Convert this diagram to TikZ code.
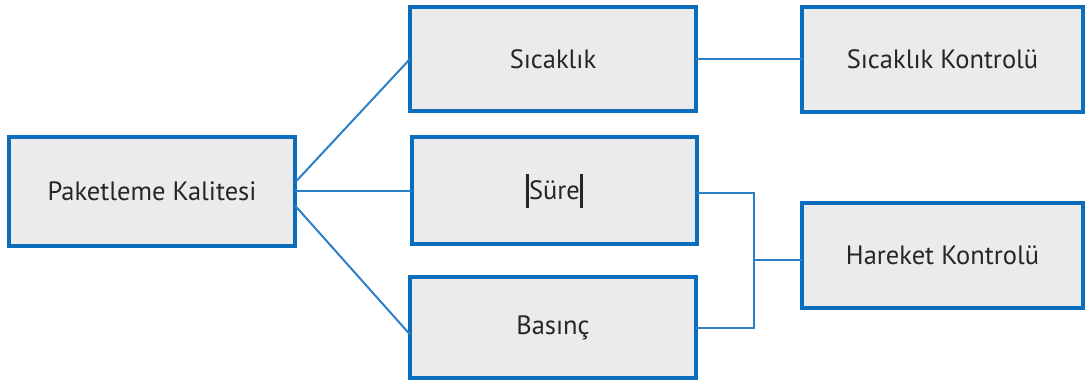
\documentclass[tikz,border=0pt]{standalone}
\usepackage{fontspec}
\setmainfont{PT Sans}
\definecolor{boxblue}{HTML}{0B6DBE}
\definecolor{linkblue}{HTML}{2B80C8}
\definecolor{boxfill}{HTML}{EBEBEB}
\definecolor{txt}{HTML}{262626}
\tikzset{
  block/.style={draw=boxblue, line width=3.2pt, fill=boxfill, inner sep=0pt,
    outer sep=0pt, text=txt, font=\fontsize{26.5}{31}\selectfont},
  link/.style={draw=linkblue, line width=2pt},
}
\newcommand{\cursorbar}{\textcolor{txt}{\rule[-8pt]{2.1pt}{34pt}}}
\begin{document}
\begin{tikzpicture}[x=1pt,y=-1pt]
  \useasboundingbox (0,0) rectangle (1086,380);
  % boxes
  \node[block, minimum width=286pt, minimum height=109pt] (pk) at (152,191.5) {Paketleme Kalitesi};
  \node[block, minimum width=286pt, minimum height=104pt] (sic) at (553,59) {Sıcaklık};
  \node[block, minimum width=285pt, minimum height=107pt] (sure) at (554.5,190.5) {\cursorbar\kern0.5pt Süre\kern0.5pt\cursorbar};
  \node[block, minimum width=286pt, minimum height=101pt] (bas) at (553,327.5) {Basınç};
  \node[block, minimum width=281pt, minimum height=105pt] (sk) at (942.5,59.5) {Sıcaklık Kontrolü};
  \node[block, minimum width=281pt, minimum height=105pt] (hk) at (942.5,255.5) {Hareket Kontrolü};
  % fan-out from the main box
  \draw[link] ([yshift=9pt]pk.east) -- (sic.west);
  \draw[link] (pk.east |- sure.west) -- (sure.west);
  \draw[link] ([yshift=-14pt]pk.east) -- ([yshift=-7pt]bas.west);
  % temperature control
  \draw[link] (sic.east) -- (sk.west |- sic.east);
  % bracket joining duration and pressure to motion control
  \coordinate (j) at (754,260);
  \draw[link] ([yshift=-2pt]sure.east) -| (j) |- (bas.east);
  \draw[link] (j) -- (hk.west |- j);
\end{tikzpicture}
\end{document}
